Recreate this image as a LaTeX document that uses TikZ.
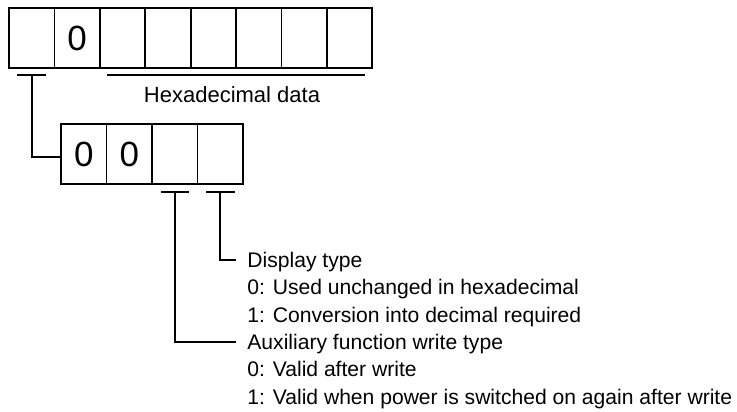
\documentclass[tikz,border=0pt]{standalone}
\usepackage{fontspec}
\setmainfont{Liberation Sans}
\begin{document}
\begin{tikzpicture}[x=1pt,y=-1pt,line width=1.8pt,
  cell/.style={draw,minimum width=45.4pt,minimum height=60pt,inner sep=0pt,outer sep=0pt,font=\fontsize{35}{35}\selectfont},
  cellb/.style={cell,minimum width=45.5pt},
  lab/.style={anchor=west,inner xsep=10.5pt,inner ysep=0pt,text height=15.2pt,text depth=0pt,font=\fontsize{21.1}{27}\selectfont}]
\useasboundingbox (0,0) rectangle (737,412);
% top row
\foreach \i/\t in {1/,2/0,3/,4/,5/,6/,7/,8/}
  \node[cell] (t\i) at ({31.7+45.4*(\i-1)},38) {\t};
% bottom row
\foreach \i/\t in {1/0,2/0,3/,4/}
  \node[cellb] (b\i) at ({83.75+45.5*(\i-1)},154) {\t};
% brackets
\coordinate (k1) at ([yshift=-7pt]t1.south);
\draw ([xshift=-14.5pt]k1) -- ([xshift=14.5pt]k1);
\draw ([shift={(7pt,-7pt)}]t3.south west) -- ([shift={(-7pt,-7pt)}]t8.south east);
\node[font=\fontsize{22}{27}\selectfont,anchor=base,inner sep=0pt] (hex) at (232,102.5) {Hexadecimal data};
\draw (k1) |- ([yshift=-3pt]b1.west);
\coordinate (k3) at ([yshift=-8pt]b3.south);
\coordinate (k4) at ([yshift=-8pt]b4.south);
\draw ([xshift=-14pt]k3) -- ([xshift=14pt]k3);
\draw ([xshift=-14.5pt]k4) -- ([xshift=14.5pt]k4);
% labels
\node[lab] (d1) at (236,260) {Display type};
\node[lab] (d2) at (236,287.3) {0: Used unchanged in hexadecimal};
\node[lab] (d3) at (236,314.6) {1: Conversion into decimal required};
\node[lab] (a1) at (236,341.9) {Auxiliary function write type};
\node[lab] (a2) at (236,369.2) {0: Valid after write};
\node[lab] (a3) at (236,396.5) {1: Valid when power is switched on again after write};
\draw (k4) |- (d1.west);
\draw (k3) |- (a1.west);
\end{tikzpicture}
\end{document}
